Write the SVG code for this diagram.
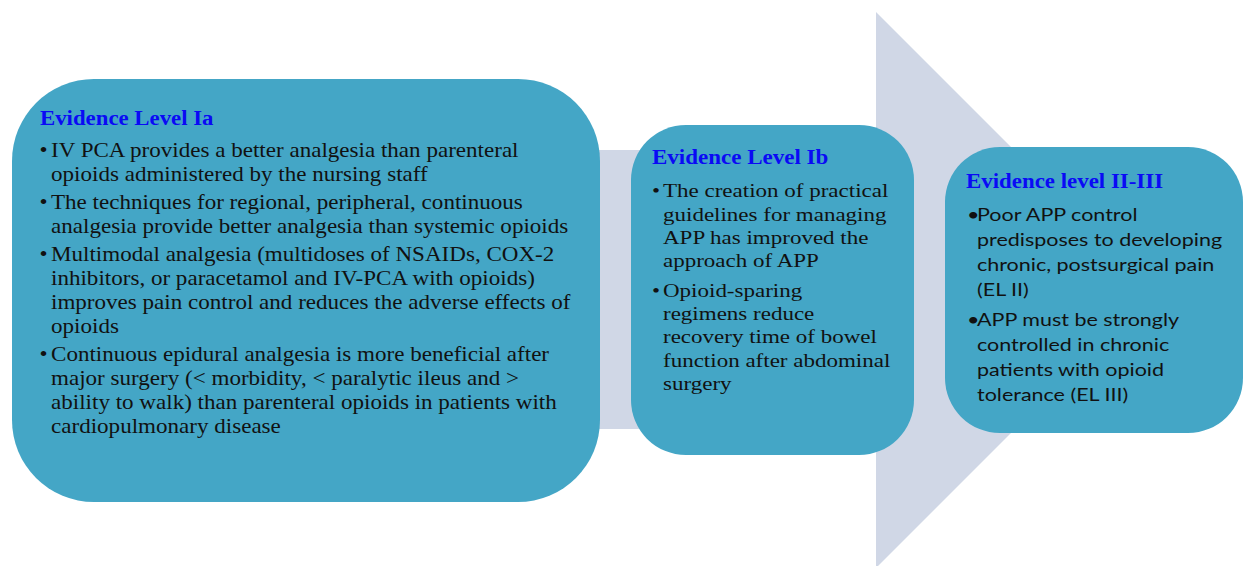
<svg xmlns="http://www.w3.org/2000/svg" width="1243" height="566" viewBox="0 0 1243 566">
<style>
.box{fill:#44A6C6;}
.arrow{fill:#D0D7E6;}
.title{font-family:"Liberation Serif","Times New Roman",serif;font-weight:bold;fill:#0A0AF5;font-size:20px;}
.serif{font-family:"Liberation Serif","Times New Roman",serif;fill:#111;}
.sans{font-family:Lato,"Liberation Sans",sans-serif;fill:#111;}
</style>
<rect width="1243" height="566" fill="#FFFFFF"/>
<g id="connectors">
<polygon class="arrow" points="590,150 876,150 876,12 1154,290 876,568 876,429 590,429"/>
</g>
<g id="node-ia">
<rect class="box" x="12" y="79" width="588" height="423" rx="82" ry="82"/>
<text class="title" transform="translate(40,124.5) scale(1.14,1)">Evidence Level Ia</text>
<g class="serif" font-size="20" transform="translate(51,0) scale(1.153,1)">
<text x="-10" y="157.5">•</text>
<text x="0" y="157.5">IV PCA provides a better analgesia than parenteral</text>
<text x="0" y="181.5">opioids administered by the nursing staff</text>
<text x="-10" y="209.5">•</text>
<text x="0" y="209.5">The techniques for regional, peripheral, continuous</text>
<text x="0" y="233.5">analgesia provide better analgesia than systemic opioids</text>
<text x="-10" y="261.5">•</text>
<text x="0" y="261.5">Multimodal analgesia (multidoses of NSAIDs, COX-2</text>
<text x="0" y="285.5">inhibitors, or paracetamol and IV-PCA with opioids)</text>
<text x="0" y="309.5">improves pain control and reduces the adverse effects of</text>
<text x="0" y="333.5">opioids</text>
<text x="-10" y="361">•</text>
<text x="0" y="361">Continuous epidural analgesia is more beneficial after</text>
<text x="0" y="385">major surgery (&lt; morbidity, &lt; paralytic ileus and &gt;</text>
<text x="0" y="409">ability to walk) than parenteral opioids in patients with</text>
<text x="0" y="433">cardiopulmonary disease</text>
</g>
</g>
<g id="node-ib">
<rect class="box" x="631" y="125" width="283" height="330" rx="55" ry="55"/>
<text class="title" transform="translate(652,164) scale(1.15,1)">Evidence Level Ib</text>
<g class="serif" font-size="19.5" transform="translate(663,0) scale(1.18,1)">
<text x="-9.3" y="197.5">•</text>
<text x="0" y="197.5">The creation of practical</text>
<text x="0" y="220.8">guidelines for managing</text>
<text x="0" y="244.2">APP has improved the</text>
<text x="0" y="267.5">approach of APP</text>
<text x="-9.3" y="296.8">•</text>
<text x="0" y="296.8">Opioid-sparing</text>
<text x="0" y="320.2">regimens reduce</text>
<text x="0" y="343.5">recovery time of bowel</text>
<text x="0" y="367">function after abdominal</text>
<text x="0" y="390.5">surgery</text>
</g>
</g>
<g id="node-ii-iii">
<rect class="box" x="945" y="147" width="298" height="286" rx="55" ry="55"/>
<text class="title" transform="translate(966,188) scale(1.145,1)">Evidence level II-III</text>
<g class="sans" font-size="18" transform="translate(977,0) scale(1.194,1)">
<text x="-8.4" y="221">•</text>
<text x="0" y="221">Poor APP control</text>
<text x="0" y="246.5">predisposes to developing</text>
<text x="0" y="271.5">chronic, postsurgical pain</text>
<text x="0" y="296.5">(EL II)</text>
<text x="-8.4" y="326">•</text>
<text x="0" y="326">APP must be strongly</text>
<text x="0" y="351.5">controlled in chronic</text>
<text x="0" y="376.5">patients with opioid</text>
<text x="0" y="401.5">tolerance (EL III)</text>
</g>
</g>
</svg>
